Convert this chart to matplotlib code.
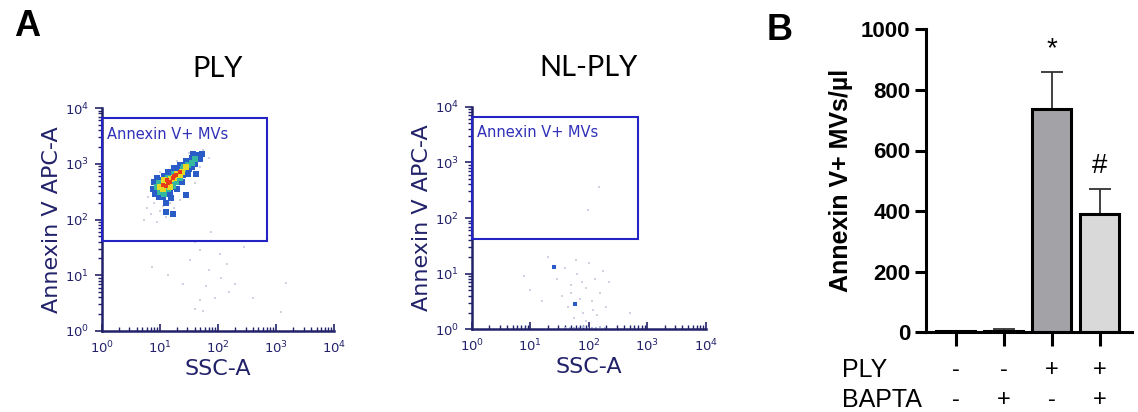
import matplotlib
matplotlib.use('Agg')
import matplotlib.pyplot as plt
import matplotlib.transforms as mtrans
from matplotlib.patches import Rectangle
from matplotlib.ticker import LogLocator, NullFormatter

# ---- panel A: flow plots (log10 coordinates) ----
decade_ticks = [1, 10, 100, 1000, 10000]
decade_labels = ['$10^{0}$', '$10^{1}$', '$10^{2}$', '$10^{3}$', '$10^{4}$']
gate_x = (1, 710)
gate_y = (42, 6600)

# PLY: dense cluster, split by density level
ply_blue = [(0.88, 2.55), (0.92, 2.45), (0.95, 2.62), (0.98, 2.40), (1.00, 2.70), (1.05, 2.50),
            (1.08, 2.78), (1.12, 2.45), (1.15, 2.85), (1.20, 2.58), (1.25, 2.92), (1.30, 2.70),
            (1.35, 2.98), (1.40, 2.80), (1.45, 3.05), (1.50, 2.90), (1.55, 3.10), (1.60, 3.00),
            (1.65, 3.15), (1.70, 3.08), (1.20, 2.38), (1.30, 2.55), (0.95, 2.75), (1.10, 2.30),
            (1.62, 2.82), (1.55, 2.95), (1.10, 2.13), (1.23, 2.10), (1.45, 2.44), (1.72, 3.18),
            (0.90, 2.68), (1.02, 2.46), (1.18, 2.48), (1.38, 2.68), (1.48, 2.82), (1.58, 3.18),
            (1.33, 2.90), (1.22, 2.86), (1.05, 2.40), (0.93, 2.52)]
ply_green = [(0.95, 2.58), (1.00, 2.50), (1.05, 2.65), (1.10, 2.55), (1.15, 2.75), (1.20, 2.65),
             (1.25, 2.82), (1.32, 2.78), (1.40, 2.90), (1.48, 2.98), (1.55, 3.02), (1.08, 2.45),
             (1.28, 2.68), (1.60, 3.08), (1.02, 2.62), (1.15, 2.55), (1.35, 2.75), (1.42, 2.95),
             (0.98, 2.66), (1.22, 2.60)]
ply_yellow = [(1.00, 2.58), (1.05, 2.55), (1.10, 2.65), (1.15, 2.62), (1.20, 2.72), (1.25, 2.75),
              (1.30, 2.82), (1.38, 2.86), (1.45, 2.95), (1.08, 2.70), (1.18, 2.58), (1.34, 2.80)]
ply_red = [(1.05, 2.62), (1.10, 2.60), (1.12, 2.70), (1.18, 2.68), (1.22, 2.75), (1.28, 2.80),
           (1.35, 2.85), (1.15, 2.65), (1.25, 2.78)]
ply_grey = [(0.72, 2.00), (0.78, 2.20), (0.85, 2.10), (0.90, 2.30), (0.95, 1.95), (1.00, 2.15),
            (1.05, 2.25), (1.10, 2.05), (1.18, 2.30), (1.25, 2.20), (1.35, 2.35), (0.80, 2.40),
            (0.88, 2.65), (1.00, 2.85), (1.30, 3.05), (1.50, 3.20), (1.75, 3.25), (1.70, 2.95),
            (1.85, 3.10), (1.60, 2.65), (0.86, 1.15), (1.14, 1.00), (1.52, 1.27), (1.60, 1.60),
            (1.70, 1.45), (1.89, 1.77), (2.03, 1.39), (1.69, 0.56), (1.80, 0.80), (1.95, 0.60),
            (2.05, 0.95), (2.20, 0.70), (1.85, 1.10), (1.60, 0.40), (2.15, 1.20), (2.30, 0.85),
            (1.75, 0.35), (3.09, 0.34), (3.18, 0.86), (2.45, 1.50), (1.40, 0.85), (2.60, 0.60)]

# NL-PLY: sparse cloud below the gate
nl_blue = [(1.41, 1.12), (1.77, 0.45)]
nl_grey = [(0.90, 0.95), (1.00, 0.70), (1.30, 1.30), (1.45, 0.90), (1.55, 0.60), (1.60, 1.10),
           (1.65, 0.40), (1.70, 0.80), (1.75, 0.20), (1.80, 1.00), (1.85, 0.55), (1.90, 0.30),
           (1.95, 0.75), (2.00, 1.20), (2.05, 0.50), (2.10, 0.90), (2.15, 0.25), (2.20, 0.65),
           (2.25, 1.05), (2.30, 0.40), (2.35, 0.85), (1.70, 0.65), (1.88, 0.85), (1.95, 0.15),
           (2.08, 0.35), (1.78, 1.25), (1.98, 2.15), (2.18, 2.55), (2.70, 0.30), (1.20, 0.50)]
nl_floor = [(1.60, 0.03), (1.68, 0.02), (1.75, 0.03), (1.83, 0.02), (1.90, 0.04), (1.98, 0.02),
            (2.05, 0.03), (2.13, 0.02), (2.20, 0.04), (2.28, 0.02)]

# ---- panel B: bar chart ----
conditions = ['ctrl', 'BAPTA', 'PLY', 'PLY+BAPTA']
ply_sign = ['-', '-', '+', '+']
bapta_sign = ['-', '+', '-', '+']
mvs_mean = [4, 5, 737, 390]
mvs_err = [0, 6, 123, 83]
bar_colors = ['white', 'white', '#a3a3a7', '#d9d9d9']
sig_marks = ['', '', '*', '#']

W, H = 1138, 412
fig = plt.figure(figsize=(W / 100, H / 100), dpi=100)


def px_axes(l, t, r, b):
    return fig.add_axes([l / W, 1 - b / H, (r - l) / W, (b - t) / H])


navy = '#22226a'
gate_col = '#2424c4'


def flow_plot(ax, title, layers):
    ax.set_xscale('log')
    ax.set_yscale('log')
    ax.set_xlim(1, 10000)
    ax.set_ylim(1, 10000)
    for pts, col, size in layers:
        xs = [10 ** p[0] for p in pts]
        ys = [10 ** p[1] for p in pts]
        ax.scatter(xs, ys, s=size, color=col, marker='s', linewidths=0, zorder=2)
    ax.add_patch(Rectangle((gate_x[0], gate_y[0]), gate_x[1] - gate_x[0], gate_y[1] - gate_y[0],
                           fill=False, edgecolor=gate_col, lw=1.5, zorder=3, clip_on=False))
    ax.text(1.22, 10 ** 3.53, 'Annexin V+ MVs', color='#3030b8', fontsize=10.5, va='center')
    for side in ['top', 'right']:
        ax.spines[side].set_visible(False)
    for side in ['left', 'bottom']:
        ax.spines[side].set_color(navy)
        ax.spines[side].set_linewidth(1.8)
    ax.set_xticks(decade_ticks)
    ax.set_xticklabels(decade_labels)
    ax.set_yticks(decade_ticks)
    ax.set_yticklabels(decade_labels)
    for axis in [ax.xaxis, ax.yaxis]:
        axis.set_minor_locator(LogLocator(base=10, subs=range(2, 10), numticks=20))
        axis.set_minor_formatter(NullFormatter())
    ax.tick_params(axis='x', which='both', direction='in', colors=navy, labelsize=9.5, pad=6)
    ax.tick_params(axis='y', which='both', direction='out', colors=navy, labelsize=9.5, pad=4)
    ax.tick_params(which='major', length=5, width=1.2)
    ax.tick_params(which='minor', length=3, width=1)
    ax.set_xlabel('SSC-A', color=navy, fontsize=16, labelpad=2)
    ax.set_ylabel('Annexin V APC-A', color=navy, fontsize=16, labelpad=2)
    ax.set_title(title, fontsize=21, pad=22, family='Lato')


grey = '#d0d0e2'
ax1 = px_axes(101.7, 108, 334, 331)
flow_plot(ax1, 'PLY', [(ply_grey, grey, 4), (ply_blue, '#2a5cc8', 16), (ply_green, '#34b8a0', 14),
                       (ply_yellow, '#e6d824', 13), (ply_red, '#e83a18', 12)])

ax2 = px_axes(471.7, 106.7, 705.7, 329.3)
flow_plot(ax2, 'NL-PLY', [(nl_grey, grey, 4), (nl_floor, '#a8bce0', 4), (nl_blue, '#2a5cc8', 7)])

fig.text(27 / W, 1 - 27 / H, 'A', fontsize=26, fontweight='bold', ha='center', va='center',
         family='Liberation Sans')

# ---- panel B ----
axb = px_axes(925.7, 29.3, 1131.7, 332.3)
x = list(range(len(conditions)))
axb.bar(x, mvs_mean, width=0.81, color=bar_colors, edgecolor='black', linewidth=2.2, zorder=2)
axb.errorbar(x, mvs_mean, yerr=[[0] * len(x), mvs_err], fmt='none', ecolor='#333333',
             elinewidth=1.3, capsize=8, capthick=1.3, zorder=1)
for xi, m, e, mark in zip(x, mvs_mean, mvs_err, sig_marks):
    if mark:
        axb.text(xi, m + e + 75, mark, fontsize=20, ha='center', va='center',
                 family='Liberation Sans')
axb.set_ylim(0, 1000)
axb.set_xlim(-0.625, 3.67)
axb.set_yticks([0, 200, 400, 600, 800, 1000])
axb.set_xticks(x)
axb.set_xticklabels([])
for side in ['top', 'right']:
    axb.spines[side].set_visible(False)
for side in ['left', 'bottom']:
    axb.spines[side].set_linewidth(2.2)
axb.tick_params(axis='y', length=8, width=2.2, labelsize=16, pad=3)
axb.tick_params(axis='x', length=10, width=2.2)
for lab in axb.get_yticklabels():
    lab.set_fontweight('bold')
    lab.set_family('Liberation Sans')
axb.set_ylabel('Annexin V+ MVs/µl', fontsize=18, fontweight='bold', family='Liberation Sans',
               labelpad=6)

trans = mtrans.blended_transform_factory(axb.transData, fig.transFigure)
for xi, ps, bs in zip(x, ply_sign, bapta_sign):
    axb.text(xi, 1 - 370 / H, ps, transform=trans, ha='center', va='center', fontsize=17,
             family='Liberation Sans', clip_on=False)
    axb.text(xi, 1 - 400 / H, bs, transform=trans, ha='center', va='center', fontsize=17,
             family='Liberation Sans', clip_on=False)
fig.text(842 / W, 1 - 370 / H, 'PLY', fontsize=18, ha='left', va='center', family='Liberation Sans')
fig.text(842 / W, 1 - 400 / H, 'BAPTA', fontsize=18, ha='left', va='center',
         family='Liberation Sans')
fig.text(780 / W, 1 - 30 / H, 'B', fontsize=26, fontweight='bold', ha='center', va='center',
         family='Liberation Sans')

fig.savefig('out.png', dpi=100)
